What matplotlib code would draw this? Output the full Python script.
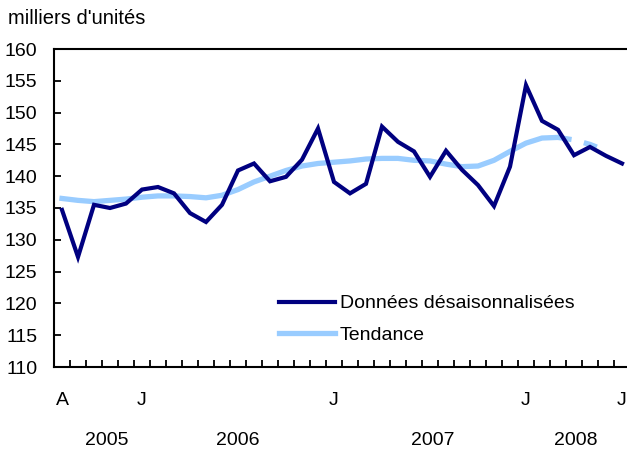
import matplotlib
matplotlib.use('Agg')
import matplotlib.pyplot as plt
import numpy as np

plt.rcParams['font.family'] = ['Liberation Sans', 'DejaVu Sans']

# Aug 2005 .. Jul 2008, monthly
donnees = [134.7, 127.3, 135.5, 135.0, 135.7, 137.9, 138.3, 137.3, 134.2, 132.8,
           135.5, 140.9, 142.0, 139.2, 139.9, 142.6, 147.5, 139.1, 137.3, 138.8,
           147.8, 145.4, 143.9, 139.9, 144.0, 141.0, 138.6, 135.3, 141.5, 154.3,
           148.7, 147.3, 143.3, 144.6, 143.2, 142.0]
tendance = [136.5, 136.2, 136.0, 136.2, 136.4, 136.7, 136.9, 136.9, 136.8, 136.6,
            137.0, 137.9, 139.1, 140.0, 140.9, 141.6, 142.0, 142.2, 142.4, 142.7,
            142.8, 142.8, 142.5, 142.4, 141.9, 141.5, 141.6, 142.5, 143.9, 145.2,
            146.0, 146.1, 145.7, 145.0, 144.0]
n_solid = 32  # last points of the trend are drawn dashed

month_pos = [0, 5, 17, 29, 35]
month_labels = ['A', 'J', 'J', 'J', 'J']
year_pos = [2.8, 11.0, 23.2, 32.1]
year_labels = ['2005', '2006', '2007', '2008']

navy = '#000080'
light = '#99ccff'
fs = 14

fig = plt.figure(figsize=(6.27, 4.49), dpi=100)
ax = fig.add_axes([54 / 627, 82 / 449, 576 / 627, 318 / 449])

x = np.arange(len(donnees))
xt = np.arange(len(tendance))
ax.plot(x, donnees, color=navy, lw=3.0, solid_joinstyle='miter', label='Données désaisonnalisées', zorder=3)
ax.plot(xt[:n_solid], tendance[:n_solid], color=light, lw=3.8, label='Tendance', zorder=2)
ax.plot(xt[n_solid - 1:], tendance[n_solid - 1:], color=light, lw=3.8,
        linestyle=(0, (2.6, 2.4)), zorder=2)

ax.set_xlim(-0.5, 35.5)
ax.set_ylim(110, 160)
ax.set_yticks(np.arange(110, 161, 5))
ax.set_xticks(np.arange(0.5, 35, 1))
ax.set_xticklabels([])
ax.tick_params(axis='both', direction='in', length=5, width=1.3, labelsize=fs)
ax.tick_params(axis='y', pad=12)
ax.spines['right'].set_visible(False)
for s in ['left', 'bottom', 'top']:
    ax.spines[s].set_linewidth(1.5)

for p, lab in zip(month_pos, month_labels):
    ax.text(p, 104.8, lab, ha='center', va='center', fontsize=fs)
for p, lab in zip(year_pos, year_labels):
    ax.text(p, 98.5, lab, ha='center', va='center', fontsize=fs)

fig.text(8 / 627, 1 - 18 / 449, "milliers d'unités", ha='left', va='center', fontsize=fs + 0.5)

ax.legend(loc='upper left', bbox_to_anchor=(271 / 627, 1 - 287 / 449), bbox_transform=fig.transFigure,
          frameon=False, fontsize=fs, handlelength=2.9, handletextpad=0.25, labelspacing=0.7,
          borderaxespad=0)

fig.savefig('out.png', dpi=100)
